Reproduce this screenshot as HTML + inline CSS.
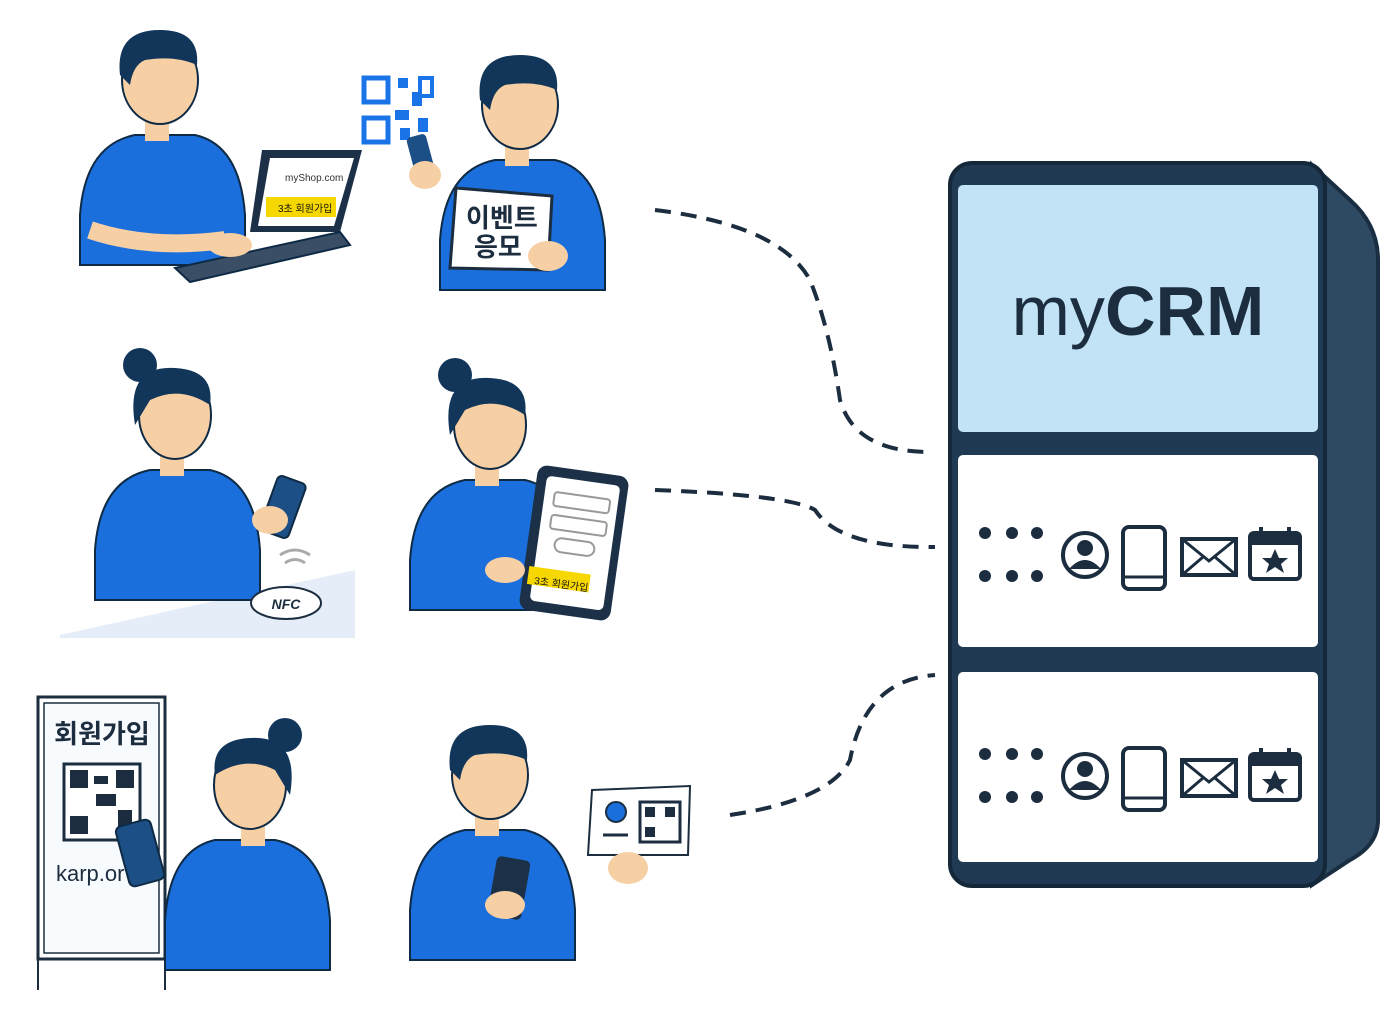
<!DOCTYPE html>
<html><head><meta charset="utf-8"><style>
html,body{margin:0;padding:0;background:#fff}
svg{display:block}
text{font-family:"Liberation Sans","Noto Sans CJK KR",sans-serif}
</style></head><body>
<svg width="1395" height="1023" viewBox="0 0 1395 1023" xmlns="http://www.w3.org/2000/svg">
<defs>
<g id="icons">
  <circle cx="0" cy="0" r="6" fill="#1b2d3f"/><circle cx="27" cy="0" r="6" fill="#1b2d3f"/><circle cx="52" cy="0" r="6" fill="#1b2d3f"/>
  <circle cx="0" cy="43" r="6" fill="#1b2d3f"/><circle cx="27" cy="43" r="6" fill="#1b2d3f"/><circle cx="52" cy="43" r="6" fill="#1b2d3f"/>
  <circle cx="100" cy="22" r="22" fill="none" stroke="#1b2d3f" stroke-width="4"/>
  <circle cx="100" cy="15" r="8" fill="#1b2d3f"/><path d="M84 36 Q100 18 116 36Z" fill="#1b2d3f"/>
  <rect x="138" y="-6" width="42" height="62" rx="6" fill="none" stroke="#1b2d3f" stroke-width="4"/>
  <line x1="138" y1="44" x2="180" y2="44" stroke="#1b2d3f" stroke-width="3"/>
  <rect x="197" y="6" width="54" height="36" fill="none" stroke="#1b2d3f" stroke-width="4"/>
  <path d="M197 6 L224 28 L251 6 M197 42 L218 24 M251 42 L230 24" fill="none" stroke="#1b2d3f" stroke-width="3"/>
  <rect x="265" y="0" width="50" height="46" rx="4" fill="none" stroke="#1b2d3f" stroke-width="4"/>
  <rect x="265" y="0" width="50" height="12" fill="#1b2d3f"/>
  <line x1="276" y1="-6" x2="276" y2="4" stroke="#1b2d3f" stroke-width="4"/><line x1="304" y1="-6" x2="304" y2="4" stroke="#1b2d3f" stroke-width="4"/>
  <polygon points="290,16 294,25 303,25 296,31 299,40 290,34 281,40 284,31 277,25 286,25" fill="#1b2d3f"/>
</g>
<g id="man">
  <path d="M-75 130 Q-70 60 -20 50 L40 50 Q85 60 90 130 L90 180 L-75 180Z" fill="#1a6fdc" stroke="#0f2a44" stroke-width="2"/>
  <rect x="-10" y="30" width="24" height="26" fill="#f7cfa4"/>
  <ellipse cx="5" cy="-5" rx="38" ry="44" fill="#f7cfa4" stroke="#0f2a44" stroke-width="2"/>
  <path d="M-35 -10 Q-40 -55 5 -55 Q45 -55 42 -20 Q20 -30 -10 -25 Q-22 -20 -25 0Z" fill="#12365a"/>
</g>
<g id="woman">
  <path d="M-75 130 Q-70 60 -20 50 L40 50 Q85 60 90 130 L90 180 L-75 180Z" fill="#1a6fdc" stroke="#0f2a44" stroke-width="2"/>
  <rect x="-10" y="30" width="24" height="26" fill="#f7cfa4"/>
  <ellipse cx="5" cy="-5" rx="36" ry="44" fill="#f7cfa4" stroke="#0f2a44" stroke-width="2"/>
  <path d="M-35 5 Q-45 -55 5 -52 Q45 -50 40 -15 Q10 -35 -20 -20Z" fill="#12365a"/>
  <circle cx="-30" cy="-55" r="17" fill="#12365a"/>
</g>
</defs>

<g fill="none" stroke="#1b2d3f" stroke-width="4" stroke-dasharray="16 10">
  <path d="M655 210 Q780 225 810 280 Q830 330 840 400 Q855 452 930 452"/>
  <path d="M655 490 Q790 495 815 510 Q840 548 935 547"/>
  <path d="M730 815 Q830 800 850 760 Q865 680 935 675"/>
</g>

<path d="M1312 165 L1350 200 Q1378 225 1378 260 L1378 820 Q1378 845 1350 860 L1312 885Z" fill="#2e4a63" stroke="#1a2e42" stroke-width="4"/>
<rect x="950" y="163" width="375" height="723" rx="22" fill="#1f3a52" stroke="#14283a" stroke-width="4"/>
<rect x="958" y="185" width="360" height="247" rx="5" fill="#c2e3f5"/>
<text x="1138" y="335" text-anchor="middle" font-size="70" fill="#1b2d3f"><tspan>my</tspan><tspan font-weight="bold">CRM</tspan></text>
<rect x="958" y="455" width="360" height="192" rx="5" fill="#fff"/>
<rect x="958" y="672" width="360" height="190" rx="5" fill="#fff"/>
<use href="#icons" transform="translate(985 533)"/>
<use href="#icons" transform="translate(985 754)"/>

<use href="#man" transform="translate(155 85)"/>
<polygon points="262,150 362,150 340,232 250,232" fill="#1c3148"/>
<polygon points="270,158 354,158 334,226 258,226" fill="#fff"/>
<text x="285" y="181" font-size="10" fill="#333">myShop.com</text>
<rect x="266" y="197" width="70" height="20" fill="#f6d800"/>
<text x="278" y="212" font-size="10" fill="#111">3초 회원가입</text>
<polygon points="175,268 340,232 350,245 190,282" fill="#3a4e66" stroke="#0f2a44" stroke-width="2"/>
<path d="M90 230 Q150 250 225 240" fill="none" stroke="#f7cfa4" stroke-width="18"/>
<ellipse cx="230" cy="245" rx="22" ry="12" fill="#f7cfa4"/>

<use href="#man" transform="translate(515 110)"/>
<g fill="#1a74e8">
<rect x="364" y="78" width="24" height="24" fill="none" stroke="#1a74e8" stroke-width="5"/>
<rect x="364" y="118" width="24" height="24" fill="none" stroke="#1a74e8" stroke-width="5"/>
<rect x="398" y="78" width="10" height="10"/><rect x="412" y="92" width="10" height="14"/><rect x="395" y="110" width="14" height="10"/><rect x="418" y="118" width="10" height="14"/><rect x="400" y="128" width="10" height="12"/>
<rect x="420" y="78" width="12" height="18" fill="none" stroke="#1a74e8" stroke-width="4"/>
</g>
<rect x="412" y="135" width="20" height="48" rx="4" fill="#1c4f85" transform="rotate(-15 422 160)"/>
<ellipse cx="425" cy="175" rx="16" ry="14" fill="#f7cfa4"/>
<polygon points="456,188 552,196 548,270 450,268" fill="#fff" stroke="#1b2d3f" stroke-width="3"/>
<text x="466" y="227" font-size="26" font-weight="bold" fill="#1b2d3f">이벤트</text>
<text x="474" y="256" font-size="26" font-weight="bold" fill="#1b2d3f">응모</text>
<ellipse cx="548" cy="256" rx="20" ry="15" fill="#f7cfa4"/>

<polygon points="60,635 355,570 355,638 60,638" fill="#e4edf8"/>
<use href="#woman" transform="translate(170 420)"/>
<rect x="268" y="478" width="30" height="58" rx="5" fill="#1c4f85" stroke="#0f2a44" stroke-width="2" transform="rotate(20 283 507)"/>
<ellipse cx="270" cy="520" rx="18" ry="14" fill="#f7cfa4"/>
<path d="M280 555 Q295 545 310 555 M285 563 Q295 556 305 563" fill="none" stroke="#aaa" stroke-width="3"/>
<ellipse cx="286" cy="603" rx="35" ry="16" fill="#fff" stroke="#1b2d3f" stroke-width="2"/>
<text x="286" y="609" text-anchor="middle" font-size="14" font-weight="bold" font-style="italic" fill="#1b2d3f">NFC</text>

<use href="#woman" transform="translate(485 430)"/>
<rect x="528" y="470" width="92" height="146" rx="10" fill="#1c3148" transform="rotate(8 574 543)"/>
<rect x="538" y="480" width="74" height="126" rx="5" fill="#fff" transform="rotate(8 574 543)"/>
<rect x="548" y="495" width="56" height="14" rx="3" fill="none" stroke="#999" stroke-width="2" transform="rotate(8 574 543)"/>
<rect x="548" y="518" width="56" height="14" rx="3" fill="none" stroke="#999" stroke-width="2" transform="rotate(8 574 543)"/>
<rect x="555" y="540" width="40" height="14" rx="7" fill="none" stroke="#999" stroke-width="2" transform="rotate(8 574 543)"/>
<rect x="533" y="572" width="62" height="18" fill="#f6d800" transform="rotate(8 574 543)"/>
<text x="540" y="589" font-size="10" fill="#111" transform="rotate(8 574 543)">3초 회원가입</text>
<ellipse cx="505" cy="570" rx="20" ry="13" fill="#f7cfa4"/>

<rect x="38" y="697" width="127" height="262" fill="#fff" stroke="#1b2d3f" stroke-width="3"/>
<rect x="44" y="703" width="115" height="250" fill="#f8fbfe" stroke="#1b2d3f" stroke-width="1.5"/>
<text x="102" y="743" text-anchor="middle" font-size="26" font-weight="bold" fill="#1b2d3f">회원가입</text>
<rect x="64" y="764" width="76" height="76" fill="#fff" stroke="#1b2d3f" stroke-width="3"/>
<g fill="#1b2d3f"><rect x="70" y="770" width="18" height="18"/><rect x="116" y="770" width="18" height="18"/><rect x="70" y="816" width="18" height="18"/><rect x="94" y="776" width="14" height="8"/><rect x="96" y="794" width="20" height="12"/><rect x="118" y="810" width="14" height="20"/></g>
<text x="56" y="881" font-size="22" fill="#1b2d3f">karp.or</text>
<line x1="38" y1="960" x2="38" y2="990" stroke="#1b2d3f" stroke-width="2"/>
<line x1="165" y1="960" x2="165" y2="990" stroke="#1b2d3f" stroke-width="2"/>
<use href="#woman" transform="translate(255 790) scale(-1 1)"/>
<rect x="122" y="822" width="36" height="62" rx="6" fill="#1c4f85" stroke="#0f2a44" stroke-width="2" transform="rotate(-15 140 853)"/>

<use href="#man" transform="translate(485 780)"/>
<rect x="492" y="858" width="34" height="60" rx="5" fill="#1c3148" transform="rotate(10 509 888)"/>
<ellipse cx="505" cy="905" rx="20" ry="14" fill="#f7cfa4"/>
<polygon points="592,790 690,786 688,855 588,855" fill="#fff" stroke="#1b2d3f" stroke-width="2"/>
<circle cx="616" cy="812" r="10" fill="#1a6fdc" stroke="#1b2d3f" stroke-width="2"/>
<line x1="603" y1="835" x2="628" y2="835" stroke="#1b2d3f" stroke-width="3"/>
<rect x="640" y="802" width="40" height="40" fill="#fff" stroke="#1b2d3f" stroke-width="3"/>
<rect x="645" y="807" width="10" height="10" fill="#1b2d3f"/><rect x="665" y="807" width="10" height="10" fill="#1b2d3f"/><rect x="645" y="827" width="10" height="10" fill="#1b2d3f"/>
<ellipse cx="628" cy="868" rx="20" ry="16" fill="#f7cfa4"/>
</svg>
</body></html>
